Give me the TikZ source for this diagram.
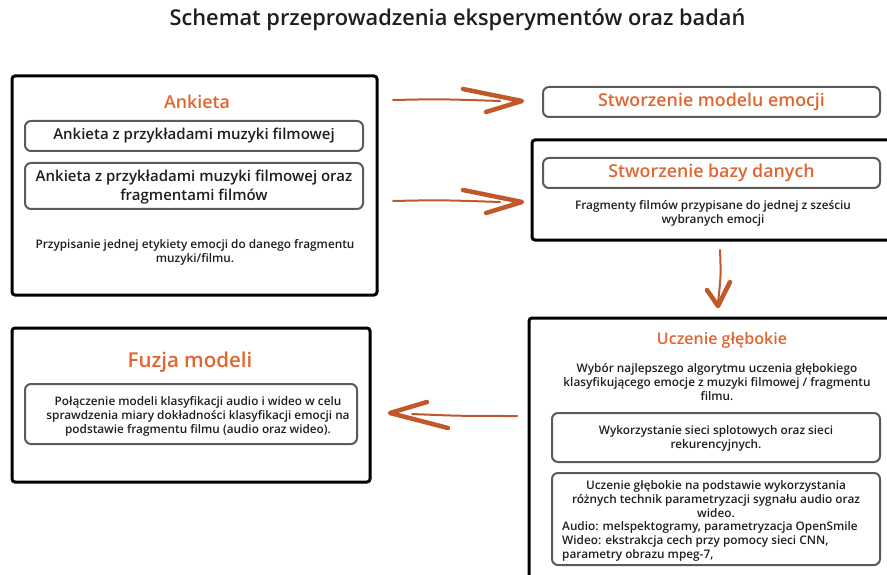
\documentclass[tikz,border=0pt]{standalone}
\usepackage{fontspec}
\IfFontExistsTF{Open Sans SemiBold}{\setmainfont{Open Sans SemiBold}}{%
 \IfFontExistsTF{Open Sans Semibold}{\setmainfont{Open Sans Semibold}}{%
  \setmainfont{Open Sans}[FakeBold=2.5,AutoFakeBold=2.5]}}
\definecolor{ttl}{HTML}{E0652F}
\definecolor{arr}{HTML}{C0582A}
\definecolor{txt}{HTML}{1E1E1E}
\definecolor{inb}{HTML}{5A5A5A}
\begin{document}
\begin{tikzpicture}[x=1pt,y=-1pt,
 outerbox/.style={draw=black,line width=3pt,rounded corners=3pt,inner sep=0pt},
 innerbox/.style={draw=inb,line width=2pt,rounded corners=6pt,inner sep=0pt},
 head/.style={text=ttl,font=\fontsize{17.8}{21}\selectfont,inner sep=0pt},
 body/.style={text=txt,font=\fontsize{11.8}{14}\selectfont,align=center,inner sep=0pt},
 mid/.style={text=txt,font=\fontsize{15}{19}\selectfont,align=center,inner sep=0pt},
 shaft/.style={draw=arr,line cap=round,line join=round,line width=2pt},
 tip/.style={draw=arr,line cap=round,line join=round,line width=4.5pt},
]
\useasboundingbox (0,0) rectangle (887,575);

% title
\node[text=txt,font=\fontsize{21.8}{26}\selectfont,inner sep=0pt] (title) at (457.5,20) {Schemat przeprowadzenia eksperymentów oraz badań};

% Ankieta
\node[outerbox,minimum width=365pt,minimum height=219pt] (ank) at (194.5,185.5) {};
\node[head] (ankt) at (197,102) {Ankieta};
\node[innerbox,minimum width=338pt,minimum height=30pt] (ank1) at (194,136) {};
\node[mid] (ank1t) at (194,136) {Ankieta z przykładami muzyki filmowej};
\node[innerbox,minimum width=338pt,minimum height=46pt] (ank2) at (194,186) {};
\node[mid] (ank2t) at (194,187) {Ankieta z przykładami muzyki filmowej oraz\\fragmentami filmów};
\node[body] (ankd) at (195,252) {Przypisanie jednej etykiety emocji do danego fragmentu\\muzyki/filmu.};

% Model emocji
\node[innerbox,minimum width=337pt,minimum height=30pt] (model) at (711.5,102) {};
\node[head] (modelt) at (711.5,102) {Stworzenie modelu emocji};

% Baza danych
\node[outerbox,minimum width=368pt,minimum height=100pt] (baza) at (716,190) {};
\node[innerbox,minimum width=337pt,minimum height=30pt] (baza1) at (711.5,173) {};
\node[head] (bazat) at (711.5,173) {Stworzenie bazy danych};
\node[body] (bazad) at (713,213) {Fragmenty filmów przypisane do jednej z sześciu\\wybranych emocji};

% Uczenie
\node[outerbox,minimum width=371pt,minimum height=282pt] (ucz) at (714.5,459) {};
\node[head,font=\fontsize{16}{20}\selectfont] (uczt) at (722,340) {Uczenie głębokie};
\node[body] (uczd) at (717,382) {Wybór najlepszego algorytmu uczenia głębokiego\\klasyfikującego emocje z muzyki filmowej / fragmentu\\filmu.};
\node[innerbox,minimum width=328pt,minimum height=49pt] (ucz1) at (716,437.5) {};
\node[body] (ucz1t) at (716,438) {Wykorzystanie sieci splotowych oraz sieci\\rekurencyjnych.};
\node[innerbox,minimum width=328pt,minimum height=92pt] (ucz2) at (716,519) {};
\node[body] (ucz2a) at (716,499) {Uczenie głębokie na podstawie wykorzystania\\różnych technik parametryzacji sygnału audio oraz\\wideo.};
\node[body,align=left,anchor=west] (ucz2b) at (562,541) {Audio: melspektogramy, parametryzacja OpenSmile\\Wideo: ekstrakcja cech przy pomocy sieci CNN,\\parametry obrazu mpeg-7,};

% Fuzja
\node[outerbox,minimum width=358pt,minimum height=154pt] (fuz) at (191,405) {};
\node[head,font=\fontsize{20.5}{24}\selectfont] (fuzt) at (190,362) {Fuzja modeli};
\node[innerbox,minimum width=332pt,minimum height=60pt] (fuz1) at (191,414) {};
\node[body] (fuz1t) at (198,416) {Połączenie modeli klasyfikacji audio i wideo w celu\\sprawdzenia miary dokładności klasyfikacji emocji na\\podstawie fragmentu filmu (audio oraz wideo).};

% arrows
\coordinate (a1s) at (393,100);
\coordinate (a1e) at (500,101);
\coordinate (a1t) at (522,101);
\draw[shaft] (a1s) .. controls (440,99) .. (a1e);
\draw[tip] (463,89) -- (a1t) -- (486,112);

\coordinate (a2s) at (393,201);
\coordinate (a2e) at (500,202);
\coordinate (a2t) at (522,202);
\draw[shaft] (a2s) .. controls (440,200) .. (a2e);
\draw[tip] (463,190) -- (a2t) -- (486,213);

\coordinate (a3s) at (720,250);
\coordinate (a3e) at (718,303);
\coordinate (a3t) at (718,306);
\draw[shaft] (a3s) .. controls (721,275) .. (a3e);
\draw[tip] (707,290) -- (a3t) -- (730,282);

\coordinate (a4s) at (517,416);
\coordinate (a4e) at (412,414);
\coordinate (a4t) at (390,413);
\draw[shaft] (a4s) .. controls (460,416) .. (a4e);
\draw[tip] (427,402) -- (a4t) -- (448,428);
\end{tikzpicture}
\end{document}
